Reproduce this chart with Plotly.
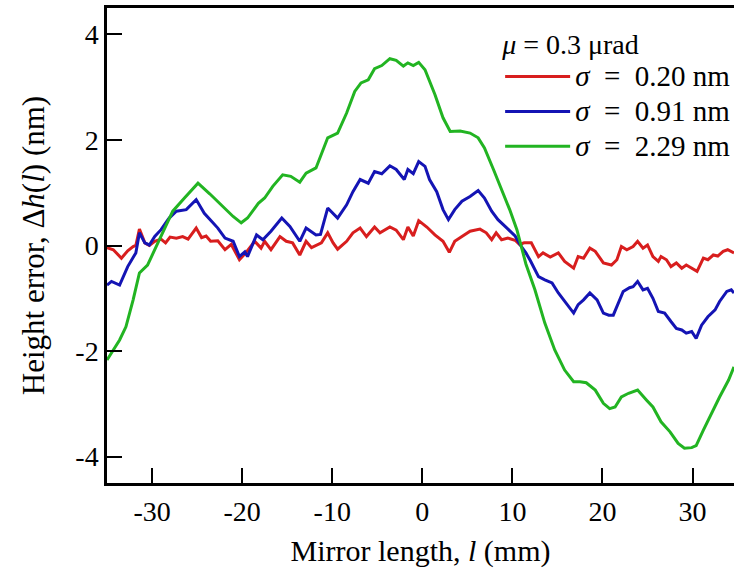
import plotly.graph_objects as go

# Mirror length (mm) and height error (nm)
x_red = [-35.0, -34.3, -33.4, -32.7, -32.1, -31.8, -31.4, -30.8, -30.3, -29.7, -29.0, -28.5, -28.0, -27.3,
         -26.6, -26.0, -25.1, -24.5, -24.0, -23.5, -22.7, -21.9, -21.2, -20.3, -19.6, -18.6, -17.9, -17.5,
         -16.8, -15.8, -15.1, -14.4, -13.6, -12.9, -12.3, -11.8, -11.2, -10.5, -9.9, -9.4, -8.4, -7.7, -6.9,
         -6.2, -5.3, -4.7, -3.6, -2.9, -2.1, -1.6, -1.0, -0.4, 0.5, 1.4, 2.3, 3.0, 3.6, 4.4, 5.3, 6.4, 7.1,
         7.7, 8.2, 8.8, 9.5, 10.3, 10.8, 11.3, 12.1, 12.9, 13.4, 14.2, 15.1, 15.8, 16.8, 17.3, 17.9, 18.6,
         19.2, 20.1, 21.0, 21.6, 22.1, 22.7, 23.4, 23.9, 24.5, 25.0, 25.6, 26.2, 26.5, 27.1, 27.6, 28.2, 28.8,
         29.3, 29.9, 30.5, 31.2, 31.7, 32.3, 32.8, 33.4, 33.9, 34.6]
y_red = [-0.04, -0.08, -0.24, -0.10, -0.02, 0.00, 0.31, 0.05, 0.00, 0.08, 0.12, 0.05, 0.16, 0.14,
         0.17, 0.12, 0.33, 0.15, 0.18, 0.08, 0.09, -0.08, 0.02, -0.27, -0.14, 0.08, -0.05, 0.08,
         -0.08, 0.17, 0.08, 0.05, -0.18, 0.08, -0.04, 0.00, 0.05, 0.24, 0.05, -0.07, 0.08, 0.24, 0.33,
         0.17, 0.35, 0.24, 0.35, 0.29, 0.11, 0.35, 0.18, 0.47, 0.35, 0.20, 0.08, -0.13, 0.08, 0.17, 0.27, 0.31, 0.24,
         0.11, 0.24, 0.11, 0.14, 0.10, 0.02, 0.05, 0.05, -0.21, -0.14, -0.22, -0.14, -0.30, -0.43, -0.21, -0.24, -0.05,
         -0.11, -0.33, -0.37, -0.27, -0.02, -0.08, -0.02, 0.08, -0.05, 0.01, -0.21, -0.30, -0.21, -0.27, -0.40, -0.33, -0.43,
         -0.37, -0.43, -0.49, -0.24, -0.27, -0.18, -0.20, -0.11, -0.08, -0.14]

x_blue = [-35.0, -34.5, -33.6, -32.7, -31.8, -31.4, -30.8, -30.3, -29.7, -29.0, -28.1, -27.3, -26.2, -25.1,
          -24.2, -23.6, -22.7, -21.9, -21.0, -20.3, -19.7, -19.4, -18.4, -17.7, -16.8, -15.6, -14.7, -13.6,
          -12.9, -11.8, -11.3, -10.5, -9.4, -8.4, -7.7, -6.9, -6.0, -5.3, -4.5, -3.6, -2.9, -2.0, -1.6, -1.0,
          -0.4, 0.3, 0.8, 1.6, 2.3, 2.9, 3.6, 4.4, 5.3, 6.2, 6.9, 7.7, 8.4, 9.4, 10.3, 11.0, 11.5, 12.0, 12.9,
          13.6, 14.4, 15.1, 15.8, 16.8, 17.3, 17.9, 18.6, 19.4, 20.1, 20.7, 21.2, 21.8, 22.3, 23.0, 23.4, 23.9,
          24.5, 25.0, 25.6, 26.2, 26.9, 27.6, 28.2, 28.8, 29.3, 29.9, 30.4, 31.0, 31.7, 32.5, 33.0, 33.8, 34.3, 34.6]
y_blue = [-0.75, -0.68, -0.75, -0.40, -0.14, 0.24, 0.05, 0.01, 0.17, 0.30, 0.52, 0.65, 0.68, 0.87,
          0.61, 0.50, 0.33, 0.14, 0.08, -0.21, -0.12, -0.21, 0.20, 0.11, 0.27, 0.52, 0.36, 0.08,
          0.33, 0.20, 0.21, 0.71, 0.52, 0.77, 1.02, 1.25, 1.18, 1.40, 1.36, 1.51, 1.44, 1.25, 1.44, 1.36,
          1.59, 1.50, 1.25, 1.02, 0.68, 0.49, 0.68, 0.84, 0.93, 1.04, 0.90, 0.65, 0.49, 0.33, 0.18, -0.02, -0.14, -0.29, -0.59,
          -0.65, -0.71, -0.90, -1.06, -1.28, -1.12, -1.03, -0.90, -1.03, -1.28, -1.32, -1.32, -1.09, -0.87, -0.80, -0.78, -0.68,
          -0.84, -0.81, -1.00, -1.25, -1.28, -1.44, -1.57, -1.60, -1.66, -1.63, -1.76, -1.51, -1.35, -1.22, -1.06, -0.87, -0.84, -0.90]

x_green = [-35.0, -33.6, -32.9, -32.1, -31.4, -30.5, -29.7, -28.8, -27.7, -26.4, -25.6, -24.9, -23.6, -22.1,
           -21.0, -20.1, -19.4, -18.2, -17.5, -16.6, -15.5, -14.6, -13.6, -12.9, -11.8, -10.5, -9.4, -8.4,
           -7.5, -6.8, -6.0, -5.3, -4.5, -3.6, -2.9, -2.1, -1.6, -1.0, -0.4, 0.3, 1.4, 2.3, 3.1, 4.2, 5.3, 6.2,
           6.9, 7.9, 8.8, 9.7, 10.5, 11.0, 11.5, 12.5, 13.6, 14.7, 15.8, 16.8, 17.5, 18.2, 19.2, 20.1, 20.8,
           21.4, 22.1, 22.9, 23.9, 24.9, 25.6, 26.5, 27.5, 28.4, 29.1, 29.9, 30.4, 31.2, 32.1, 33.0, 34.0, 34.6]
y_green = [-2.17, -1.79, -1.54, -1.03, -0.52, -0.37, -0.08, 0.24, 0.65, 0.90, 1.06, 1.18, 0.98, 0.74,
           0.55, 0.43, 0.52, 0.80, 0.90, 1.12, 1.34, 1.31, 1.20, 1.37, 1.47, 2.04, 2.13, 2.51,
           2.92, 3.08, 3.14, 3.35, 3.41, 3.54, 3.51, 3.40, 3.46, 3.41, 3.47, 3.33, 2.86, 2.42, 2.16, 2.17, 2.13, 2.04,
           1.85, 1.44, 1.06, 0.68, 0.30, -0.02, -0.35, -0.84, -1.47, -1.98, -2.36, -2.58, -2.58, -2.60, -2.74, -2.99, -3.09,
           -3.06, -2.87, -2.80, -2.74, -2.93, -3.06, -3.34, -3.53, -3.75, -3.84, -3.83, -3.79, -3.50, -3.18, -2.87, -2.55, -2.30]

sigma_labels = ["0.20", "0.91", "2.29"]
mu_label = "0.3"
colors = ["#d81e1e", "#1414b4", "#22b422"]
x_ticks = [-30, -20, -10, 0, 10, 20, 30]
y_ticks = [-4, -2, 0, 2, 4]

FONT = "Liberation Serif, Times New Roman, serif"
TICK_FS = 28
TITLE_FS = 30
LEG_FS = 29


def big(s, size):
    return f'<span style="font-size:{size}px">{s}</span>'


names = [big(f"<i>σ</i>  =  {s} nm", LEG_FS) for s in sigma_labels]

fig = go.Figure()
for xs, ys, nm, c in zip([x_red, x_blue, x_green], [y_red, y_blue, y_green], names, colors):
    fig.add_trace(go.Scatter(x=xs, y=ys, mode="lines", name=nm,
                             line=dict(color=c, width=3)))

axis_common = dict(showline=True, linecolor="black", linewidth=2.5, mirror=True,
                   ticks="inside", ticklen=15, tickwidth=2, tickcolor="black",
                   showgrid=False, zeroline=False,
                   tickfont=dict(family=FONT, size=TICK_FS, color="black"))

fig.update_xaxes(range=[-35, 34.6], tickvals=x_ticks, ticktext=[str(v) for v in x_ticks],
                 ticklabelstandoff=2,
                 title=dict(text="Mirror length, <i>l</i> (mm)",
                            font=dict(family=FONT, size=TITLE_FS, color="black"), standoff=14),
                 **axis_common)
fig.update_yaxes(range=[-4.5, 4.5], tickvals=y_ticks, ticktext=[str(v) for v in y_ticks],
                 title=dict(text="Height error, Δ<i>h</i>(<i>l</i>) (nm)",
                            font=dict(family=FONT, size=TITLE_FS + 1, color="black"), standoff=22),
                 **axis_common)

fig.update_layout(
    width=734, height=569,
    margin=dict(l=107, r=0, t=8, b=86, autoexpand=False),
    plot_bgcolor="white", paper_bgcolor="white",
    font=dict(family=FONT, size=TICK_FS, color="black"),
    legend=dict(x=0.627, y=0.985, xanchor="left", yanchor="top",
                bgcolor="rgba(0,0,0,0)", borderwidth=0,
                title=dict(text=big(f"<i>μ</i> = {mu_label} μrad", 28), font=dict(family=FONT, size=30)),
                font=dict(family=FONT, size=24.5), itemwidth=65, tracegroupgap=0),
)

fig.write_html("out.html")
